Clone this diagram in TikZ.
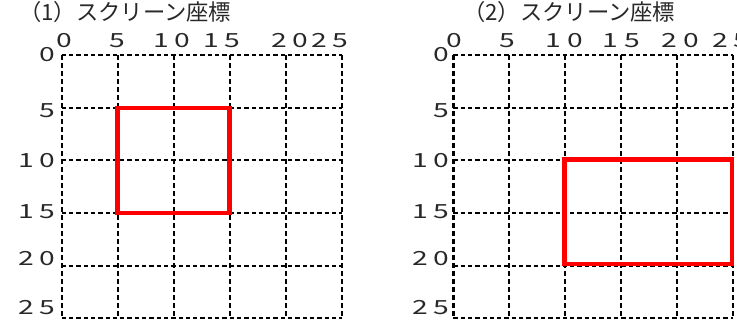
\documentclass[tikz,border=0pt]{standalone}
\usepackage{graphicx}
\usepackage{fontspec}
\setmainfont{Noto Sans CJK JP}
\definecolor{labelgray}{RGB}{40,40,40}
\definecolor{boxred}{RGB}{255,0,0}
\newcommand{\digbox}[1]{\makebox[21.5pt]{\scalebox{1.45}[1]{#1}}}
\tikzset{
  hgrid/.style={line width=2pt, dash pattern=on 4.3pt off 3pt, black},
  vgrid/.style={line width=2.4pt, dash pattern=on 5.3pt off 2.7pt, black},
  redbox/.style={line width=4.6pt, boxred},
  numlabel/.style={inner sep=0pt, anchor=base, text=labelgray, font=\fontsize{19.5}{19.5}\selectfont},
  rowlabel/.style={numlabel, anchor=base east},
  titlelabel/.style={inner sep=0pt, anchor=base west, text=labelgray, font=\fontsize{22.3}{22.3}\selectfont}
}
\begin{document}
\begin{tikzpicture}[x=1pt,y=-1pt]
\useasboundingbox (0,0) rectangle (737,323);
% ---------- titles
\node[titlelabel] (t1) at (19,21) {（1）スクリーン座標};
\node[titlelabel] (t2) at (463,21) {（2）スクリーン座標};
% ---------- grids
\foreach \gx/\gd in {61.7/56.1, 453.3/55.9}{
  \foreach \i in {0,...,5}{
    \draw[vgrid] (\gx+\i*\gd,55) -- (\gx+\i*\gd,318);
  }
  \foreach \yy in {55,108,160,213,266,318}{
    \draw[hgrid] (\gx,\yy) -- (\gx+5*\gd,\yy);
  }
}
% ---------- column labels (left)
\node[numlabel] (c1a) at (64,47.5) {\digbox{0}};
\node[numlabel] (c1b) at (117.5,47.5) {\digbox{5}};
\node[numlabel] (c1c) at (172,47.5) {\digbox{1}\digbox{0}};
\node[numlabel] (c1d) at (222,47.5) {\digbox{1}\digbox{5}};
\node[numlabel] (c1e) at (290,47.5) {\digbox{2}\digbox{0}};
\node[numlabel] (c1f) at (330,47.5) {\digbox{2}\digbox{5}};
% ---------- column labels (right)
\node[numlabel] (c2a) at (454,47.5) {\digbox{0}};
\node[numlabel] (c2b) at (507.5,47.5) {\digbox{5}};
\node[numlabel] (c2c) at (564.5,47.5) {\digbox{1}\digbox{0}};
\node[numlabel] (c2d) at (621.5,47.5) {\digbox{1}\digbox{5}};
\node[numlabel] (c2e) at (680.5,47.5) {\digbox{2}\digbox{0}};
\node[numlabel] (c2f) at (731,47.5) {\digbox{2}\digbox{5}};
% ---------- row labels (left)
\node[rowlabel] (r1a) at (58.5,61.5) {\digbox{0}};
\node[rowlabel] (r1b) at (58.5,117.5) {\digbox{5}};
\node[rowlabel] (r1c) at (58.5,167.5) {\digbox{1}\digbox{0}};
\node[rowlabel] (r1d) at (58.5,219) {\digbox{1}\digbox{5}};
\node[rowlabel] (r1e) at (58.5,265.5) {\digbox{2}\digbox{0}};
\node[rowlabel] (r1f) at (58.5,314.5) {\digbox{2}\digbox{5}};
% ---------- row labels (right)
\node[rowlabel] (r2a) at (452.5,61.5) {\digbox{0}};
\node[rowlabel] (r2b) at (452.5,117.5) {\digbox{5}};
\node[rowlabel] (r2c) at (452.5,167.5) {\digbox{1}\digbox{0}};
\node[rowlabel] (r2d) at (452.5,219) {\digbox{1}\digbox{5}};
\node[rowlabel] (r2e) at (452.5,265.5) {\digbox{2}\digbox{0}};
\node[rowlabel] (r2f) at (452.5,314.5) {\digbox{2}\digbox{5}};
% ---------- red rectangles
\coordinate (a1) at (117.3,108);
\coordinate (a2) at (229.3,213);
\coordinate (b1) at (564.2,159.5);
\coordinate (b2) at (731.8,264);
\draw[redbox] (a1) rectangle (a2);
\draw[redbox] (b1) rectangle (b2);
\end{tikzpicture}
\end{document}
